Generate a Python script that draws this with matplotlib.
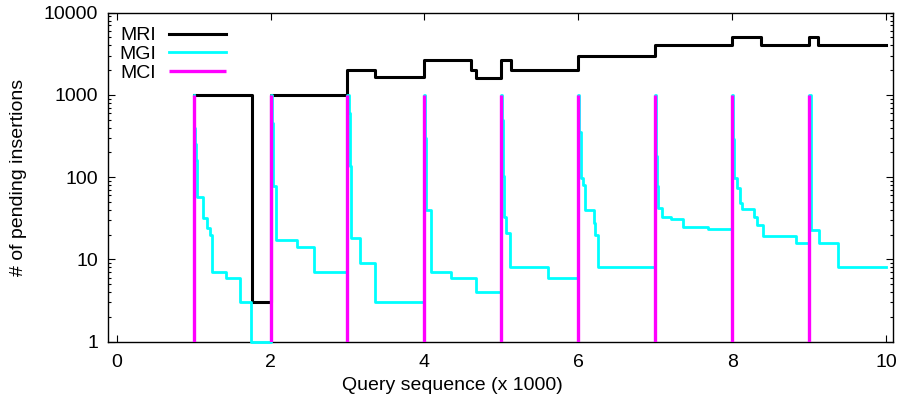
import matplotlib
matplotlib.use("Agg")
from matplotlib import pyplot as plt
from matplotlib.ticker import FixedLocator, LogLocator, NullFormatter

# MRI: pending insertions (step values, held until next x)
mri_x = [1.0, 1.753, 2.0, 2.99, 3.36, 4.0, 4.60, 4.667, 5.0, 5.12,
         6.0, 7.0, 8.0, 8.38, 9.0, 9.12, 10.0]
mri_y = [1000, 3, 1000, 2000, 1650, 2650, 2000, 1600, 2650, 2000,
         3000, 4000, 5100, 4000, 5100, 4000, 4000]

# MGI
mgi_x = [1.0, 1.01, 1.02, 1.035, 1.045, 1.117, 1.169, 1.21, 1.234, 1.42, 1.60, 1.744,
         2.0, 2.02, 2.035, 2.069, 2.338, 2.566,
         3.0, 3.02, 3.035, 3.05, 3.16, 3.36,
         4.0, 4.01, 4.02, 4.08, 4.34, 4.675,
         5.0, 5.01, 5.02, 5.04, 5.06, 5.117, 5.605,
         6.0, 6.01, 6.03, 6.04, 6.06, 6.09, 6.2, 6.22, 6.25,
         7.0, 7.01, 7.02, 7.03, 7.09, 7.21, 7.36, 7.69,
         8.0, 8.01, 8.02, 8.06, 8.10, 8.13, 8.29, 8.32, 8.40, 8.83,
         9.0, 9.02, 9.03, 9.13, 9.37, 10.0]
mgi_y = [1000, 400, 250, 160, 58, 32, 24, 20, 7, 6, 3, 1,
         1000, 460, 78, 17, 14, 7,
         1000, 600, 136, 18, 9, 3,
         1000, 300, 40, 7, 6, 4,
         1000, 500, 102, 33, 21, 8, 6,
         1000, 350, 118, 98, 81, 40, 28, 20, 8,
         1000, 180, 78, 42, 33, 31, 24.6, 23.5,
         1000, 288, 98, 74, 49, 41, 33, 26, 19.5, 16,
         1000, 180, 23, 16, 8, 8]

# MCI: spikes at each thousand
mci_x = [1, 2, 3, 4, 5, 6, 7, 8, 9]
mci_y = [1000] * 9

plt.rcParams['font.family'] = ['Liberation Sans', 'DejaVu Sans']
fs = 14

fig = plt.figure(figsize=(9.05, 4.05), dpi=100)
ax = fig.add_axes([108.3/905, 1 - 341.7/405, 785/905, 329/405])

ax.plot(mri_x, mri_y, drawstyle='steps-post', color='black', lw=2.2, label='MRI', zorder=2)
ax.plot(mgi_x, mgi_y, drawstyle='steps-post', color='#00ffff', lw=2.0, label='MGI',
        clip_on=False, zorder=3)
ax.vlines(mci_x, 1, mci_y, color='#ff00ff', lw=2.4, label='MCI', zorder=4)

ax.set_yscale('log')
ax.set_xlim(-0.109, 10.095)
ax.set_ylim(1, 10000)

ax.xaxis.set_major_locator(FixedLocator([0, 2, 4, 6, 8, 10]))
ax.set_xticklabels(['0', '2', '4', '6', '8', '10'])
ax.yaxis.set_major_locator(FixedLocator([1, 10, 100, 1000, 10000]))
ax.set_yticklabels(['1', '10', '100', '1000', '10000'])
ax.yaxis.set_minor_locator(LogLocator(base=10, subs=range(2, 10)))
ax.yaxis.set_minor_formatter(NullFormatter())

ax.tick_params(which='both', direction='in', top=True, right=True, labelsize=fs)
ax.tick_params(which='major', length=5, width=0.8)
ax.tick_params(axis='x', pad=8.5)
ax.tick_params(axis='y', pad=7.5)
ax.tick_params(which='minor', length=2.5, width=0.8)
for s in ax.spines.values():
    s.set_linewidth(1.0)

ax.set_ylabel('# of pending insertions', fontsize=fs)
ax.yaxis.set_label_coords(-0.104, 0.5)
fig.text(0.5, 1 - 385/405, 'Query sequence (x 1000)', fontsize=fs, ha='center', va='center')

ax.legend(loc='upper left', bbox_to_anchor=(0.014, 0.957), frameon=False, fontsize=fs,
          markerfirst=False, handlelength=2.95, handletextpad=0.65, labelspacing=0.05,
          borderpad=0, borderaxespad=0)

plt.savefig('out.png', dpi=100)
